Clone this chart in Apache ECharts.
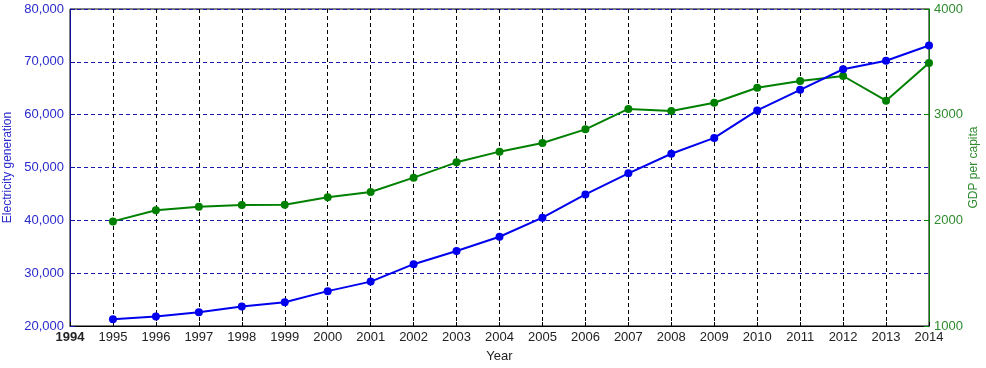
<!DOCTYPE html>
<html>
<head>
<meta charset="utf-8">
<script src="https://cdn.jsdelivr.net/npm/echarts@6/dist/echarts.min.js"></script>
<style>
html,body{margin:0;padding:0;background:#fff;}
#c{width:986px;height:368px;}
</style>
</head>
<body>
<div id="c"></div>
<script>
const years = [1995,1996,1997,1998,1999,2000,2001,2002,2003,2004,2005,2006,2007,2008,2009,2010,2011,2012,2013,2014];
const electricity = [21300,21800,22600,23700,24500,26600,28400,31700,34200,36900,40500,44900,48900,52600,55600,60800,64700,68600,70200,73100];
const gdpPerCapita = [1990,2095,2129,2145,2148,2218,2268,2404,2549,2650,2732,2861,3054,3035,3113,3255,3319,3366,3132,3489];
const xAxisName = 'Year';
const leftAxisName = 'Electricity generation';
const rightAxisName = 'GDP per capita';

const font = 'Liberation Sans, Arial, sans-serif';
const blue = '#0000ee';
const green = '#008000';

const chart = echarts.init(document.getElementById('c'));
chart.setOption({
  animation: false,
  backgroundColor: '#ffffff',
  grid: { left: 70, right: 57, top: 9, bottom: 42, outerBoundsMode: 'none', containLabel: false, show: true, borderColor: '#000', borderWidth: 1, backgroundColor: 'transparent' },
  xAxis: {
    type: 'value', min: 1994, max: 2014, interval: 1,
    name: xAxisName, nameLocation: 'middle', nameGap: 24,
    nameTextStyle: { fontFamily: font, fontSize: 13, color: '#222' },
    axisLine: { lineStyle: { color: '#000', width: 1 } },
    axisTick: { inside: true, length: 4, lineStyle: { color: '#000' } },
    axisLabel: {
      fontFamily: font, fontSize: 13, color: '#222', margin: 5,
      formatter: v => v === 1994 ? '{b|' + v + '}' : String(v),
      rich: { b: { fontFamily: font, fontSize: 13, fontWeight: 'bold', color: '#222' } }
    },
    splitLine: { show: true, lineStyle: { color: '#000', type: [4, 3], width: 1 } }
  },
  yAxis: [
    {
      type: 'value', min: 20000, max: 80000, interval: 10000, position: 'left',
      name: leftAxisName, nameLocation: 'middle', nameGap: 55, nameRotate: 90,
      nameTextStyle: { fontFamily: font, fontSize: 12, color: '#2a2acc' },
      axisLine: { show: true, lineStyle: { color: '#1010a0', width: 1 } },
      axisTick: { show: true, inside: true, length: 5, lineStyle: { color: '#1010a0' } },
      axisLabel: { fontFamily: font, fontSize: 13, color: '#2a2acc', margin: 6 },
      splitLine: { show: true, lineStyle: { color: '#1a1ab0', type: [4, 3], width: 1 } }
    },
    {
      type: 'value', min: 1000, max: 4000, interval: 1000, position: 'right',
      name: rightAxisName, nameLocation: 'middle', nameGap: 39, nameRotate: 90, nameMoveOverlap: false,
      nameTextStyle: { fontFamily: font, fontSize: 12, color: '#2e8b2e' },
      axisLine: { show: true, lineStyle: { color: '#008000', width: 1 } },
      axisTick: { show: true, inside: true, length: 5, lineStyle: { color: '#008000' } },
      axisLabel: { fontFamily: font, fontSize: 13, color: '#2e8b2e', margin: 5, formatter: v => String(v) },
      splitLine: { show: false }
    }
  ],
  series: [
    {
      type: 'line', yAxisIndex: 0,
      data: years.map((y, i) => [y, electricity[i]]),
      symbol: 'circle', symbolSize: 8,
      lineStyle: { color: blue, width: 2 },
      itemStyle: { color: blue },
      z: 3
    },
    {
      type: 'line', yAxisIndex: 1,
      data: years.map((y, i) => [y, gdpPerCapita[i]]),
      symbol: 'circle', symbolSize: 8,
      lineStyle: { color: green, width: 2 },
      itemStyle: { color: green },
      z: 2
    }
  ]
});
</script>
</body>
</html>
